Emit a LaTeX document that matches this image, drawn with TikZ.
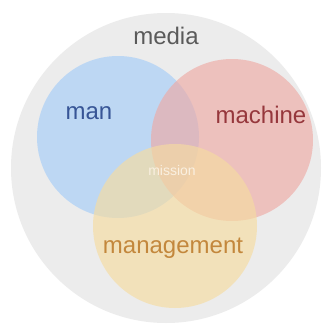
\documentclass[tikz,border=0pt]{standalone}
\usepackage{fontspec}
\setmainfont{Liberation Sans}
\definecolor{ringgray}{RGB}{236,236,236}
\definecolor{manblue}{RGB}{165,205,248}
\definecolor{machred}{RGB}{238,170,165}
\definecolor{mgmtyellow}{RGB}{246,220,160}
\definecolor{mantext}{RGB}{55,85,150}
\definecolor{machtext}{RGB}{150,55,60}
\definecolor{mgmttext}{RGB}{195,135,60}
\definecolor{mediatext}{RGB}{90,90,90}
\definecolor{misstext}{RGB}{250,240,225}
\begin{document}
\begin{tikzpicture}[x=1pt,y=-1pt,
  setcircle/.style={circle,inner sep=0pt,fill opacity=0.65},
  label/.style={font=\fontsize{24}{24}\selectfont}]
\useasboundingbox (0,0) rectangle (331,333);
\fill[white] (0,0) rectangle (331,333);
% outer media disc
\node[circle,fill=ringgray,minimum size=310pt,inner sep=0pt] (media) at (166,168) {};
% the three overlapping sets
\node[setcircle,fill=manblue,minimum size=162pt] (man) at (118,137) {};
\node[setcircle,fill=machred,minimum size=162pt] (machine) at (232,140) {};
\node[setcircle,fill=mgmtyellow,minimum size=164pt] (management) at (175,226) {};
% labels
\node[label,text=mediatext] (medialbl) at (166,36) {media};
\node[label,text=mantext] (manlbl) at (89,113) {man};
\node[label,text=machtext] (machlbl) at (261,115) {machine};
\node[label,text=mgmttext] (mgmtlbl) at (173,248) {management};
\node[text=misstext,font=\fontsize{14}{14}\selectfont] (mission) at (172,170) {mission};
\end{tikzpicture}
\end{document}
